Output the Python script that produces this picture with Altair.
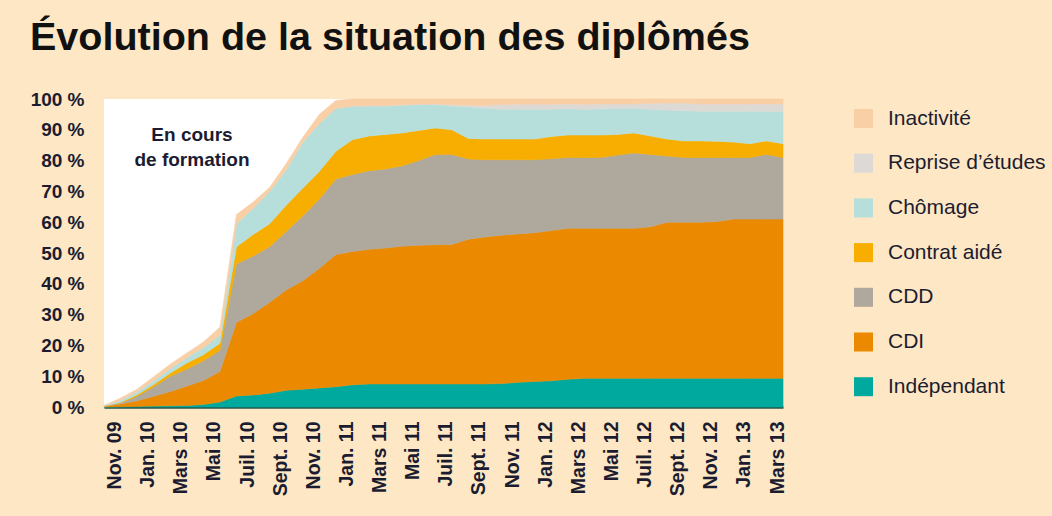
import altair as alt
import pandas as pd

mois = ["Oct. 09", "Nov. 09", "Déc. 09",
        "Jan. 10", "Févr. 10", "Mars 10", "Avr. 10", "Mai 10", "Juin 10", "Juil. 10", "Août 10", "Sept. 10", "Oct. 10", "Nov. 10", "Déc. 10",
        "Jan. 11", "Févr. 11", "Mars 11", "Avr. 11", "Mai 11", "Juin 11", "Juil. 11", "Août 11", "Sept. 11", "Oct. 11", "Nov. 11", "Déc. 11",
        "Jan. 12", "Févr. 12", "Mars 12", "Avr. 12", "Mai 12", "Juin 12", "Juil. 12", "Août 12", "Sept. 12", "Oct. 12", "Nov. 12", "Déc. 12",
        "Jan. 13", "Févr. 13", "Mars 13"]
mois_affiches = ["Nov. 09", "Jan. 10", "Mars 10", "Mai 10", "Juil. 10", "Sept. 10", "Nov. 10",
                 "Jan. 11", "Mars 11", "Mai 11", "Juil. 11", "Sept. 11", "Nov. 11",
                 "Jan. 12", "Mars 12", "Mai 12", "Juil. 12", "Sept. 12", "Nov. 12",
                 "Jan. 13", "Mars 13"]

# Upper edge (cumulative %) of each band, bottom band first
haut_independant = [0, 0.1, 0.2, 0.3, 0.4, 0.5, 0.8, 1.6, 3.6, 3.9, 4.5, 5.4, 5.8, 6.2, 6.6, 7.2,
                    7.5, 7.5, 7.5, 7.5, 7.5, 7.5, 7.5, 7.5, 7.6, 8.0, 8.3, 8.5, 9.0,
                    9.3, 9.3, 9.3, 9.3, 9.3, 9.3, 9.3, 9.3, 9.3, 9.3, 9.3, 9.3, 9.3]
haut_cdi = [0.2, 1.0, 2.0, 3.5, 5.0, 6.8, 8.6, 11.5, 27.5, 30.3, 34.0, 38.0, 41.0, 45.0, 49.5, 50.5,
            51.2, 51.6, 52.2, 52.5, 52.7, 52.8, 54.5, 55.2, 55.8, 56.2, 56.6, 57.3, 58.0, 58.0, 58.0, 58.0,
            58.0, 58.5, 60.0, 60.0, 60.0, 60.2, 61.0, 61.0, 61.0, 61.0]
haut_cdd = [0.3, 1.3, 3.5, 6.5, 10.0, 12.3, 15.0, 18.4, 46.5, 49.0, 52.0, 57.0, 62.0, 67.5, 74.0, 75.5,
            76.7, 77.3, 78.3, 80.0, 82.0, 82.0, 80.5, 80.3, 80.3, 80.3, 80.3, 80.6, 81.0, 81.0, 81.0, 81.8,
            82.5, 82.0, 81.5, 81.0, 81.0, 81.0, 81.0, 81.0, 82.0, 81.0]
haut_contrat_aide = [0.3, 1.5, 4.0, 7.3, 11.0, 14.3, 17.0, 20.7, 52.0, 56.0, 59.5, 65.5, 71.0, 76.5, 83.0, 86.8,
                     88.0, 88.5, 89.0, 89.8, 90.6, 90.0, 87.2, 87.0, 87.0, 87.0, 87.0, 87.8, 88.3, 88.3, 88.3, 88.5,
                     89.0, 88.0, 87.0, 86.4, 86.4, 86.3, 86.0, 85.5, 86.4, 85.5]
haut_chomage = [0.4, 2.2, 5.0, 8.5, 12.5, 16.0, 19.3, 23.3, 59.5, 64.5, 70.0, 77.0, 86.0, 92.0, 97.0, 97.7,
                97.7, 97.7, 98.0, 98.2, 98.3, 97.7, 97.5, 97.0, 96.7, 96.7, 96.7, 96.7, 96.9, 96.6, 96.8, 97.0,
                97.0, 96.7, 96.4, 96.2, 96.0, 96.0, 96.0, 96.0, 96.0, 95.8]
haut_reprise = [0.4, 2.2, 5.0, 8.5, 12.5, 16.0, 19.3, 23.3, 59.5, 64.5, 70.0, 77.0, 86.0, 92.0, 97.0, 97.7,
                97.8, 97.9, 98.1, 98.3, 98.4, 98.1, 98.0, 97.9, 98.2, 98.3, 98.3, 98.3, 98.4, 98.3, 98.4, 98.4,
                98.4, 98.6, 98.7, 98.7, 98.4, 98.4, 98.4, 98.4, 98.4, 98.4]
haut_inactivite = [0.5, 2.9, 5.8, 9.8, 13.9, 17.5, 21.1, 25.9, 62.5, 66.5, 71.3, 79.0, 87.5, 95.0, 99.5, 100,
                   100, 100, 100, 100, 100, 100, 100, 100, 100, 100, 100, 100, 100, 100, 100, 100,
                   100, 100, 100, 100, 100, 100, 100, 100, 100, 100]

statuts_bas_en_haut = ["Indépendant", "CDI", "CDD", "Contrat aidé", "Chômage", "Reprise d’études", "Inactivité"]
hauts = [haut_independant, haut_cdi, haut_cdd, haut_contrat_aide, haut_chomage, haut_reprise, haut_inactivite]

ordre_legende = ["Inactivité", "Reprise d’études", "Chômage", "Contrat aidé", "CDD", "CDI", "Indépendant"]
couleurs = ["#f9cfa6", "#dddad5", "#b6dfdc", "#f7ae00", "#afa89c", "#eb8a00", "#00a99d"]

rows = []
bas = [0.0] * len(mois)
for statut, haut in zip(statuts_bas_en_haut, hauts):
    for i, m in enumerate(mois):
        rows.append({"mois": m, "statut": statut, "bas": bas[i], "haut": haut[i]})
    bas = haut
df = pd.DataFrame(rows)

FONT = "Liberation Sans"
INK = "#1c1c30"

couleur_scale = alt.Scale(domain=ordre_legende, range=couleurs)

aires = alt.Chart(df).mark_area(interpolate="linear", opacity=1, strokeWidth=0.6).encode(
    x=alt.X("mois:O", sort=mois, scale=alt.Scale(type="point", padding=0),
            axis=alt.Axis(values=mois_affiches, title=None, labelAngle=270, labelAlign="right",
                          labelBaseline="middle", labelOffset=-6, labelPadding=14,
                          labelFontSize=19.5, ticks=False, domain=True,
                          domainColor="#24564f", domainWidth=2.5)),
    y=alt.Y("haut:Q", scale=alt.Scale(domain=[0, 100], nice=False),
            axis=alt.Axis(values=list(range(0, 101, 10)), labelExpr="datum.value + '\u00a0%'",
                          title=None, ticks=False, domain=False, grid=False,
                          labelPadding=20, labelFontSize=19)),
    y2="bas:Q",
    color=alt.Color("statut:N", scale=couleur_scale,
                    legend=alt.Legend(title=None, orient="none", legendX=749, legendY=9,
                                      symbolType="square", symbolSize=361, symbolStrokeWidth=0,
                                      labelFontSize=21, labelFont=FONT, labelColor=INK,
                                      labelOffset=14, rowPadding=22.7, labelLimit=300)),
    stroke=alt.Stroke("statut:N", scale=couleur_scale, legend=None),
)

annotation = alt.Chart(pd.DataFrame({"t": ["En cours\nde formation"]})).mark_text(
    lineBreak="\n", align="center", baseline="top", fontSize=19, fontWeight="bold",
    font=FONT, color=INK, lineHeight=25
).encode(x=alt.value(88), y=alt.value(27), text="t:N")

chart = alt.layer(aires, annotation).properties(
    width=679, height=308,
    background="#fde7c4",
    padding={"left": 104, "top": 99, "right": 269, "bottom": 109},
    autosize=alt.AutoSizeParams(type="none"),
    title=alt.TitleParams("Évolution de la situation des diplômés", anchor="start", frame="group",
                          dx=-74, offset=32, fontSize=39.5, fontWeight="bold", font=FONT, color="#111111"),
).configure_view(fill="white", stroke=None).configure_axis(
    labelFont=FONT, labelFontWeight="bold", labelColor=INK, grid=False
)

chart.save("out.html", embed_options={"renderer": "svg", "actions": False})
